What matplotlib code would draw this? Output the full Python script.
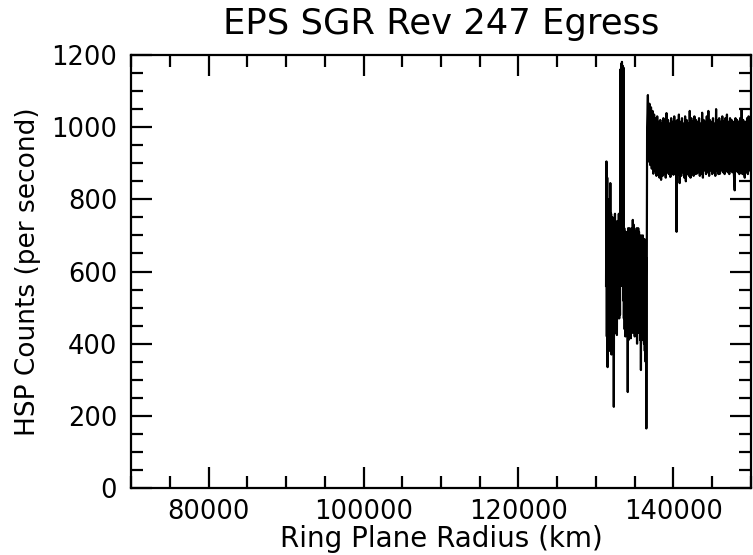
"""EPS SGR Rev 247 egress profile: HSP counts vs ring plane radius."""
import matplotlib
matplotlib.use('Agg')
import matplotlib.pyplot as plt
from matplotlib.ticker import MultipleLocator
import numpy as np

# Radius grids (km): 50 km samples inside the gap edge, 100 km beyond it
RADIUS_INNER = np.arange(131300, 136501, 50)
RADIUS_OUTER = np.arange(136600, 150001, 100)

# HSP counts (per second)
COUNTS_INNER = [
    560, 905, 420, 860, 335, 780, 400, 800, 380, 760,
    430, 845, 420, 760, 370, 740, 450, 750, 400, 720,
    225, 740, 450, 760, 430, 730, 460, 720, 424, 740,
    470, 730, 480, 760, 470, 740, 480, 1160, 620, 1175,
    560, 1181, 600, 1170, 520, 1165, 470, 720, 440, 700,
    420, 710, 460, 700, 440, 710, 266, 720, 410, 700,
    450, 720, 430, 700, 415, 710, 440, 720, 430, 743,
    460, 730, 450, 700, 420, 700, 450, 710, 440, 720,
    400, 700, 430, 720, 440, 710, 430, 700, 410, 690,
    327, 700, 430, 690, 410, 700, 420, 680, 400, 690,
    380, 660, 350, 640, 165,
]
COUNTS_OUTER = [
    1000, 1089, 905, 1065, 895, 1055, 885, 1045, 871, 1035,
    880, 1025, 865, 1030, 870, 1015, 860, 1020, 854, 1010,
    865, 1025, 870, 1015, 860, 1039, 875, 1020, 870, 1010,
    862, 1025, 875, 1015, 868, 1030, 880, 1015, 710, 1020,
    870, 1035, 845, 1015, 865, 1025, 875, 1010, 860, 1030,
    850, 1020, 870, 1010, 865, 1045, 860, 1025, 875, 1015,
    865, 1030, 870, 1020, 871, 1015, 875, 1025, 865, 1010,
    870, 1040, 860, 1020, 880, 1015, 870, 1030, 875, 1045,
    865, 1020, 880, 1015, 870, 1025, 875, 1010, 865, 1050,
    880, 1020, 870, 1025, 871, 1015, 880, 1030, 875, 1015,
    870, 1025, 880, 1035, 875, 1015, 870, 1025, 880, 1020,
    875, 1015, 870, 825, 1025, 880, 1020, 875, 1015, 870,
    1025, 875, 1050, 870, 1020, 880, 860, 1015, 875, 1025,
    870, 1030, 880, 1020, 875,
]

radius = np.concatenate([RADIUS_INNER, RADIUS_OUTER])
counts = np.array(COUNTS_INNER + COUNTS_OUTER)

fig = plt.figure(figsize=(7.53, 5.55), dpi=100)
ax = fig.add_axes([0.174, 0.1207, 0.8233, 0.7802])

ax.plot(radius, counts, color='black', linewidth=1.6)

ax.set_xlim(70000, 150000)
ax.set_ylim(0, 1200)
ax.xaxis.set_major_locator(MultipleLocator(20000))
ax.xaxis.set_minor_locator(MultipleLocator(5000))
ax.yaxis.set_major_locator(MultipleLocator(200))
ax.yaxis.set_minor_locator(MultipleLocator(50))

ax.tick_params(which='both', direction='in', top=True, right=True, width=1.6)
ax.tick_params(which='major', length=15, labelsize=18.5)
ax.tick_params(axis='x', which='major', pad=8)
ax.tick_params(axis='y', which='major', pad=10)
ax.tick_params(which='minor', length=8.5)
for spine in ax.spines.values():
    spine.set_linewidth(1.6)

ax.set_title('EPS SGR Rev 247 Egress', fontsize=25.5, pad=15)
ax.set_xlabel('Ring Plane Radius (km)', fontsize=20, labelpad=0)
ax.set_ylabel('HSP Counts (per second)', fontsize=19, labelpad=7)

fig.savefig('out.png', dpi=100)
